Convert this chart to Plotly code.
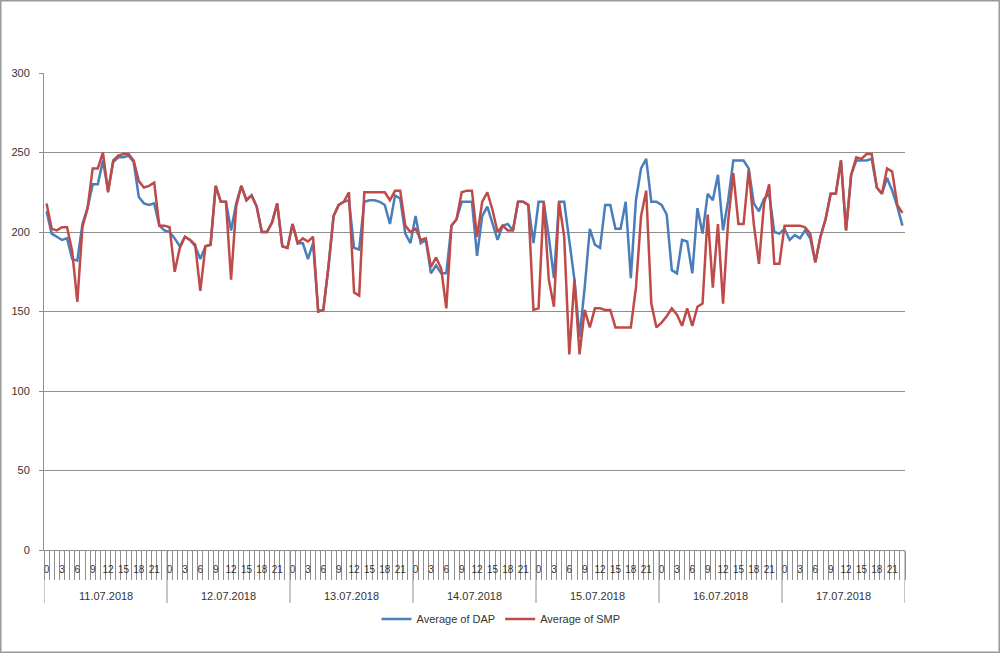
import plotly.graph_objects as go

days = ["11.07.2018", "12.07.2018", "13.07.2018", "14.07.2018",
        "15.07.2018", "16.07.2018", "17.07.2018"]
hours = list(range(24))

dap = [
    # 11.07
    213, 199, 197, 195, 196, 183, 182, 205, 215, 230, 230, 245, 226, 244, 247, 247, 248, 244, 222, 218, 217, 218, 204, 201,
    # 12.07
    200, 196, 191, 197, 195, 191, 183, 191, 192, 229, 219, 219, 201, 218, 229, 220, 223, 216, 200, 200, 206, 218, 191, 190,
    # 13.07
    205, 193, 193, 183, 193, 150, 151, 178, 210, 217, 219, 220, 190, 189, 219, 220, 220, 219, 217, 205, 223, 221, 199, 193,
    # 14.07
    210, 193, 195, 174, 179, 174, 174, 204, 208, 219, 219, 219, 185, 210, 216, 206, 195, 204, 205, 201, 219, 219, 217, 193,
    # 15.07
    219, 219, 197, 171, 219, 219, 195, 170, 134, 165, 202, 192, 190, 217, 217, 202, 202, 219, 171, 220, 240, 246, 219, 219,
    # 16.07
    217, 211, 176, 174, 195, 194, 174, 215, 199, 224, 220, 236, 201, 220, 245, 245, 245, 240, 218, 213, 221, 224, 200, 199,
    # 17.07
    202, 195, 198, 196, 201, 196, 181, 197, 208, 224, 224, 245, 201, 236, 245, 245, 245, 246, 228, 224, 234, 226, 216, 204,
]

smp = [
    # 11.07
    218, 202, 201, 203, 203, 188, 156, 203, 215, 240, 240, 250, 225, 245, 248, 249, 249, 245, 232, 228, 229, 231, 204, 204,
    # 12.07
    203, 175, 190, 197, 195, 192, 163, 191, 192, 229, 219, 219, 170, 216, 229, 220, 223, 216, 200, 200, 206, 218, 191, 190,
    # 13.07
    205, 193, 196, 194, 197, 150, 151, 178, 210, 217, 219, 225, 162, 160, 225, 225, 225, 225, 225, 220, 226, 226, 204, 200,
    # 14.07
    202, 195, 196, 178, 184, 177, 152, 204, 208, 225, 226, 226, 197, 219, 225, 214, 200, 204, 201, 201, 219, 219, 217, 151,
    # 15.07
    152, 219, 170, 153, 219, 197, 123, 170, 123, 151, 140, 152, 152, 151, 151, 140, 140, 140, 140, 165, 210, 226, 155, 140,
    # 16.07
    143, 147, 152, 148, 141, 152, 141, 153, 155, 211, 165, 205, 155, 207, 237, 205, 205, 239, 205, 180, 218, 230, 180, 180,
    # 17.07
    204, 204, 204, 204, 203, 199, 181, 197, 208, 224, 224, 245, 201, 236, 247, 246, 249, 249, 228, 224, 240, 238, 217, 212,
]

hour_label_step = 3

# ---- geometry of the picture ----
W, H = 1000, 653
ML, MR, MT, MB = 44, 95, 73, 103
PW, PH = W - ML - MR, H - MT - MB

def py(pix_y):
    """pixel y -> paper y"""
    return (H - MB - pix_y) / PH

def px(pix_x):
    return (pix_x - ML) / PW

n = len(days) * len(hours)
xs = list(range(n))

BLUE = "#4a7ebb"
RED = "#be4b48"
GRID = "#8e8e8e"
TXT = "#333333"
FONT = "Liberation Sans"

fig = go.Figure()
fig.add_trace(go.Scatter(x=xs, y=dap, mode="lines", name="Average of DAP",
                         line=dict(color=BLUE, width=2.5)))
fig.add_trace(go.Scatter(x=xs, y=smp, mode="lines", name="Average of SMP",
                         line=dict(color=RED, width=2.5)))

tickvals = [d * 24 + h for d in range(len(days)) for h in hours if h % hour_label_step == 0]
ticktext = [str(h) for d in range(len(days)) for h in hours if h % hour_label_step == 0]

shapes = []
annotations = []
for d in range(len(days) + 1):
    shapes.append(dict(type="line", xref="x", yref="paper",
                       x0=d * 24 - 0.5, x1=d * 24 - 0.5, y0=0, y1=py(603),
                       line=dict(color=GRID, width=1)))
for d, lab in enumerate(days):
    annotations.append(dict(text=lab, xref="x", yref="paper", x=d * 24 + 11.5, y=py(596),
                            showarrow=False, xanchor="center", yanchor="middle",
                            font=dict(size=11, color=TXT, family=FONT)))
# outer frame
shapes.append(dict(type="rect", xref="paper", yref="paper",
                   x0=px(0.75), x1=px(W - 0.75), y0=py(H - 0.75), y1=py(0.75),
                   line=dict(color="#9a9a9a", width=1.5)))

fig.update_layout(
    width=W, height=H,
    margin=dict(l=ML, r=MR, t=MT, b=MB),
    paper_bgcolor="white", plot_bgcolor="white",
    font=dict(family=FONT, size=11, color=TXT),
    showlegend=True,
    legend=dict(orientation="h", x=px(501), xanchor="center", y=py(619), yanchor="middle",
                font=dict(size=11, color=TXT, family=FONT), itemwidth=30),
    shapes=shapes,
    annotations=annotations,
    xaxis=dict(
        range=[-0.5, n - 0.5], tickmode="array", tickvals=tickvals, ticktext=ticktext,
        ticks="", showgrid=False, zeroline=False, showline=True, linecolor=GRID, linewidth=1,
        tickfont=dict(size=10, color=TXT, family=FONT), tickangle=0, ticklabelstandoff=10,
        minor=dict(tickmode="array", tickvals=[i - 0.5 for i in range(n + 1)],
                   ticks="outside", ticklen=29, tickcolor=GRID, tickwidth=1, showgrid=False),
    ),
    yaxis=dict(
        range=[0, 300], dtick=50, tick0=0, showgrid=True, gridcolor=GRID, gridwidth=1,
        zeroline=False, showline=True, linecolor=GRID, linewidth=1,
        ticks="outside", ticklen=4, tickcolor=GRID, ticklabelstandoff=7,
        tickfont=dict(size=11, color=TXT, family=FONT),
    ),
)

fig.write_html("out.html", config={"displayModeBar": False},
               post_script="document.body.style.margin='0';document.body.style.overflow='hidden';")
